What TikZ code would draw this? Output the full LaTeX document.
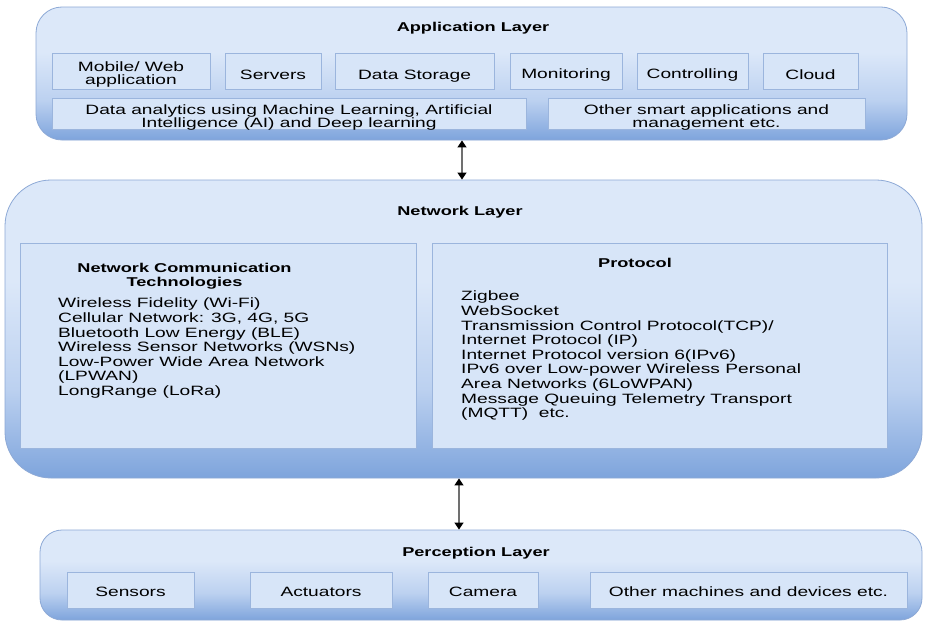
\documentclass[tikz,border=0pt]{standalone}
\usepackage{fontspec}
\newfontfamily\diagfont[FakeStretch=1.42]{Liberation Sans}
\usetikzlibrary{arrows.meta}

\definecolor{layerlight}{HTML}{DCE8F9}
\definecolor{layermid}{HTML}{BCD1F0}
\definecolor{layerdark}{HTML}{7EA4DC}
\definecolor{layerline}{HTML}{8DA9D6}
\definecolor{itemfill}{HTML}{D7E5F8}
\definecolor{itemline}{HTML}{9BB5DD}
\definecolor{shaftgray}{HTML}{707070}

% light at the top, darker blue towards the bottom edge
\pgfdeclareverticalshading{layershade}{100bp}{color(0bp)=(layerdark); color(25bp)=(layerdark); color(40bp)=(layermid); color(58bp)=(layerlight); color(100bp)=(layerlight)}

\newcommand\dgbody{\diagfont\fontsize{13.5}{14.6}\selectfont}
\newcommand\dghead{\diagfont\bfseries\fontsize{12.8}{14.2}\selectfont}

\tikzset{
  layer/.style={draw=layerline, line width=0.8pt, shading=layershade, rounded corners=#1, inner sep=0pt},
  item/.style={draw=itemline, fill=itemfill, line width=0.8pt, inner sep=0pt},
  itemtext/.style={font=\dgbody, inner sep=0pt, align=center, yshift=#1},
  itemtext/.default=-4pt,
  title/.style={font=\dghead, inner sep=0pt, align=center},
  listtext/.style={font=\dgbody, inner sep=0pt, align=left, anchor=north west},
  conn/.style={draw=shaftgray, line width=1.3pt,
    {Triangle[width=9pt,length=7pt,color=black]}-{Triangle[width=9pt,length=7pt,color=black]}}
}

% a light-blue box with its centred caption: name, centre, width, height, text shift, text
\newcommand\itembox[6]{%
  \node[item, minimum width=#3, minimum height=#4] (#1) at (#2) {};
  \node[itemtext=#5] (#1-text) at (#1.center) {#6};}

\begin{document}
\begin{tikzpicture}[x=1pt,y=-1pt]
\fill[white] (0,0) rectangle (925,621);
\useasboundingbox (0,0) rectangle (925,621);

% ---------------- Application layer ----------------
\node[layer=26pt, minimum width=871pt, minimum height=133pt] (app) at (471.5,73.5) {};
\node[title] (apptitle) at (473,28) {Application Layer};
\itembox{mobile}{131,71}{158pt}{36pt}{-3.5pt}{Mobile/ Web\\[-0.8pt]application}
\itembox{servers}{273,71}{96pt}{36pt}{-4pt}{Servers}
\itembox{storage}{414.5,71}{159pt}{36pt}{-5pt}{Data Storage}
\itembox{monitor}{566,71}{112pt}{36pt}{-4pt}{Monitoring}
\itembox{control}{692.5,71}{111pt}{36pt}{-4pt}{Controlling}
\itembox{cloud}{810.5,71}{95pt}{36pt}{-4pt}{Cloud}
\itembox{analytics}{289,113.5}{474pt}{31pt}{-4pt}{Data analytics using Machine Learning, Artificial\\[-0.8pt]Intelligence (AI) and Deep learning}
\itembox{smart}{706.5,113.5}{317pt}{31pt}{-4pt}{Other smart applications and\\[-0.8pt]management etc.}

% ---------------- Network layer ----------------
\node[layer=46pt, minimum width=917pt, minimum height=298pt] (net) at (463.5,329) {};
\node[title] (nettitle) at (460,212) {Network Layer};
\node[item, minimum width=396pt, minimum height=205pt] (tech) at (218,345.5) {};
\node[item, minimum width=455pt, minimum height=205pt] (proto) at (659.5,345.5) {};
\node[title] (techtitle) at (184.5,276) {Network Communication\\Technologies};
\node[title] (prototitle) at (635,263) {Protocol};
\node[listtext] (techlist) at (58,298) {Wireless Fidelity (Wi-Fi)\\
Cellular Network: 3G, 4G, 5G\\
Bluetooth Low Energy (BLE)\\
Wireless Sensor Networks (WSNs)\\
Low-Power Wide Area Network\\
(LPWAN)\\
LongRange (LoRa)};
\node[listtext] (protolist) at (461,291) {Zigbee\\
WebSocket\\
Transmission Control Protocol(TCP)/\\
Internet Protocol (IP)\\
Internet Protocol version 6(IPv6)\\
IPv6 over Low-power Wireless Personal\\
Area Networks (6LoWPAN)\\
Message Queuing Telemetry Transport\\
(MQTT)\ \ etc.};

% ---------------- Perception layer ----------------
\node[layer=22pt, minimum width=882pt, minimum height=90pt] (perc) at (481,575) {};
\node[title] (perctitle) at (476,553) {Perception Layer};
\itembox{sensors}{130.5,590}{127pt}{36pt}{-1.5pt}{Sensors}
\itembox{actuators}{321,590}{142pt}{36pt}{-1.5pt}{Actuators}
\itembox{camera}{483,590}{110pt}{36pt}{-1.5pt}{Camera}
\itembox{othermach}{748.5,590}{317pt}{36pt}{-1.5pt}{Other machines and devices etc.}

% ---------------- Connectors between layers ----------------
\coordinate (upperx) at (462,0);
\coordinate (lowerx) at (459,0);
\draw[conn] (app.south -| upperx) -- (net.north -| upperx);
\draw[conn] (net.south -| lowerx) -- (perc.north -| lowerx);
\end{tikzpicture}
\end{document}
